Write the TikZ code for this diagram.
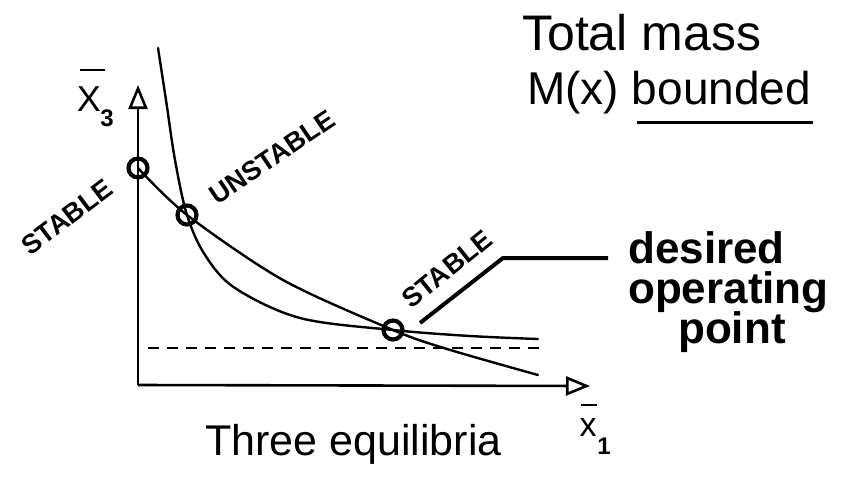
\documentclass[tikz,border=0pt]{standalone}
\usepackage{fontspec}
\setmainfont{Liberation Sans}
\usetikzlibrary{arrows.meta}
\begin{document}
\begin{tikzpicture}[x=1pt,y=-1pt,
  curve/.style={line width=2.4pt, line cap=round, line join=round},
  axis/.style={line width=2.6pt, -{Triangle[open, length=24pt, width=19pt, line width=2.6pt]}},
  eq/.style={circle, draw, line width=4.2pt, minimum size=19pt, inner sep=0pt},
  block/.style={font=\fontsize{27}{27}\selectfont\bfseries, inner sep=0pt},
  hand/.style={font=\fontsize{48}{48}\selectfont, anchor=base west, inner sep=0pt},
  bold/.style={font=\fontsize{44}{44}\selectfont\bfseries, anchor=base west, inner sep=0pt},
  axlab/.style={font=\fontsize{36}{36}\selectfont, inner sep=0pt},
  sub/.style={font=\fontsize{24}{24}\selectfont\bfseries, inner sep=0pt},
  barline/.style={line width=2.6pt},
  lead/.style={line width=4pt, line join=round}]
\useasboundingbox (0,0) rectangle (843,477);
% axes
\coordinate (O) at (138,385);
\coordinate (ytip) at (138,85);
\coordinate (xtip) at (590,386);
\draw[axis] (O) -- (ytip);
\draw[axis] (O) -- (xtip);
% equilibria
\coordinate (s1) at (138,168);
\coordinate (u) at (187,215);
\coordinate (s2) at (393,330);
% curves
\draw[curve] plot[smooth, tension=0.55] coordinates {(158,48) (166,100) (175,160) (u) (205,255) (235,288) (300,318) (s2) (470,336) (538,339)};
\draw[curve] plot[smooth, tension=0.5] coordinates {(s1) (u) (283,280) (s2) (447,349) (538,375)};
% dashed asymptote
\draw[line width=2pt, dash pattern=on 11pt off 8pt] (148,348) -- (543,348);
% circles
\node[eq] (n1) at (s1) {};
\node[eq] (n2) at (u) {};
\node[eq] (n3) at (s2) {};
% labels
\node[block, rotate=37] (l1) at (67,217) {STABLE};
\node[block, rotate=34] (l2) at (272,157) {UNSTABLE};
\node[block, rotate=39] (l3) at (447,269) {STABLE};
% leader
\coordinate (la) at (420,323);
\coordinate (lb) at (503,258);
\coordinate (lc) at (608,258);
\draw[lead] (la) -- (lb) -- (lc);
\node[bold] (d1) at (628,263) {desired};
\node[bold] (d2) at (628,303) {operating};
\node[bold] (d3) at (678,343) {point};
% top right
\node[hand, font=\fontsize{50}{50}\selectfont] (t1) at (522,50) {Total mass};
\node[hand, font=\fontsize{46}{46}\selectfont] (t2) at (527,104) {M(x) bounded};
\draw[line width=3pt] (637,122) -- (813,122);
% bottom
\node[hand, font=\fontsize{43}{43}\selectfont] (t3) at (205,455) {Three equilibria};
% axis labels
\node[axlab] (x3) at (89,99) {X};
\node[sub] (x3s) at (107,118) {3};
\draw[barline] (80,70) -- (105,70);
\node[axlab, font=\fontsize{34}{34}\selectfont] (x1) at (588,428) {x};
\node[sub] (x1s) at (604,446) {1};
\draw[barline] (581,405) -- (597,405);
\end{tikzpicture}
\end{document}
